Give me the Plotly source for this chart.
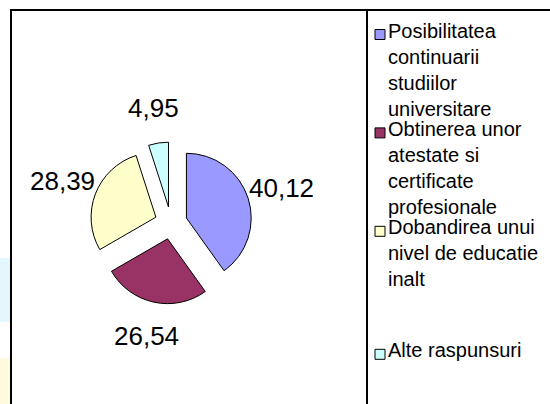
import numpy as np
import plotly.graph_objects as go

W, H = 550, 404

# data
labels = [
    "Posibilitatea continuarii studiilor universitare",
    "Obtinerea unor atestate si certificate profesionale",
    "Dobandirea unui nivel de educatie inalt",
    "Alte raspunsuri",
]
legend_text = [
    "Posibilitatea<br>continuarii<br>studiilor<br>universitare",
    "Obtinerea unor<br>atestate si<br>certificate<br>profesionale",
    "Dobandirea unui<br>nivel de educatie<br>inalt",
    "Alte raspunsuri",
]
values = [40.12, 26.54, 28.39, 4.95]
colors = ["#9999FF", "#993366", "#FFFFCC", "#CCFFFF"]

FONT = "Liberation Sans, Arial, sans-serif"

# layout in pixels
pie_cx, pie_cy, pie_box = 171, 223, 162
pull = 0.25
label_r = 116
legend_rows = [0, 4, 8, 13]
row_pitch = 24.6
legend_top = 17.5


def px(x):
    return x / W


def py(y):
    return 1 - y / H


fig = go.Figure()

fig.add_trace(go.Pie(
    labels=labels,
    values=values,
    sort=False,
    direction="clockwise",
    rotation=0,
    pull=pull,
    textinfo="none",
    hoverinfo="label+value",
    marker=dict(colors=colors, line=dict(color="black", width=1)),
    domain=dict(x=[px(pie_cx - pie_box / 2), px(pie_cx + pie_box / 2)],
                y=[py(pie_cy + pie_box / 2), py(pie_cy - pie_box / 2)]),
    showlegend=False,
))

# value labels placed along each slice's bisector
total = sum(values)
cum = np.cumsum([0] + values[:-1])
annotations = []
for v, c in zip(values, cum):
    theta = np.radians((c + v / 2) / total * 360)
    x = pie_cx + label_r * np.sin(theta)
    y = pie_cy - label_r * np.cos(theta)
    annotations.append(dict(
        x=px(x), y=py(y), xref="paper", yref="paper",
        text=f"{v:.2f}".replace(".", ","), showarrow=False,
        xanchor="center", yanchor="middle",
        font=dict(family=FONT, size=26, color="black")))

shapes = [
    # faint background behind the frame
    dict(type="rect", xref="paper", yref="paper", layer="below",
         x0=0, x1=px(10), y0=py(322), y1=py(258),
         fillcolor="rgba(200,235,250,0.45)", line=dict(width=0)),
    dict(type="rect", xref="paper", yref="paper", layer="below",
         x0=0, x1=px(10), y0=0, y1=py(358),
         fillcolor="rgba(252,246,200,0.6)", line=dict(width=0)),
    # frame
    dict(type="line", xref="paper", yref="paper",
         x0=px(10), x1=1, y0=py(10), y1=py(10),
         line=dict(color="black", width=2)),
    dict(type="line", xref="paper", yref="paper",
         x0=px(11), x1=px(11), y0=py(10), y1=0,
         line=dict(color="black", width=2)),
    dict(type="line", xref="paper", yref="paper",
         x0=px(367), x1=px(367), y0=py(10), y1=0,
         line=dict(color="black", width=2)),
]

# legend built by hand
for text, col, row in zip(legend_text, colors, legend_rows):
    top = legend_top + row * row_pitch
    shapes.append(dict(
        type="rect", xref="paper", yref="paper",
        x0=px(375), x1=px(385), y0=py(top + 22), y1=py(top + 12),
        fillcolor=col, line=dict(color="black", width=1)))
    annotations.append(dict(
        x=px(386), y=py(top), xref="paper", yref="paper",
        text=text, showarrow=False, align="left",
        xanchor="left", yanchor="top",
        font=dict(family=FONT, size=20, color="black")))

fig.update_layout(
    width=W, height=H,
    margin=dict(l=0, r=0, t=0, b=0),
    paper_bgcolor="white",
    plot_bgcolor="white",
    font=dict(family=FONT),
    shapes=shapes,
    annotations=annotations,
)

fig.write_html("out.html", config={"displayModeBar": False},
               post_script="document.body.style.margin='0';")
